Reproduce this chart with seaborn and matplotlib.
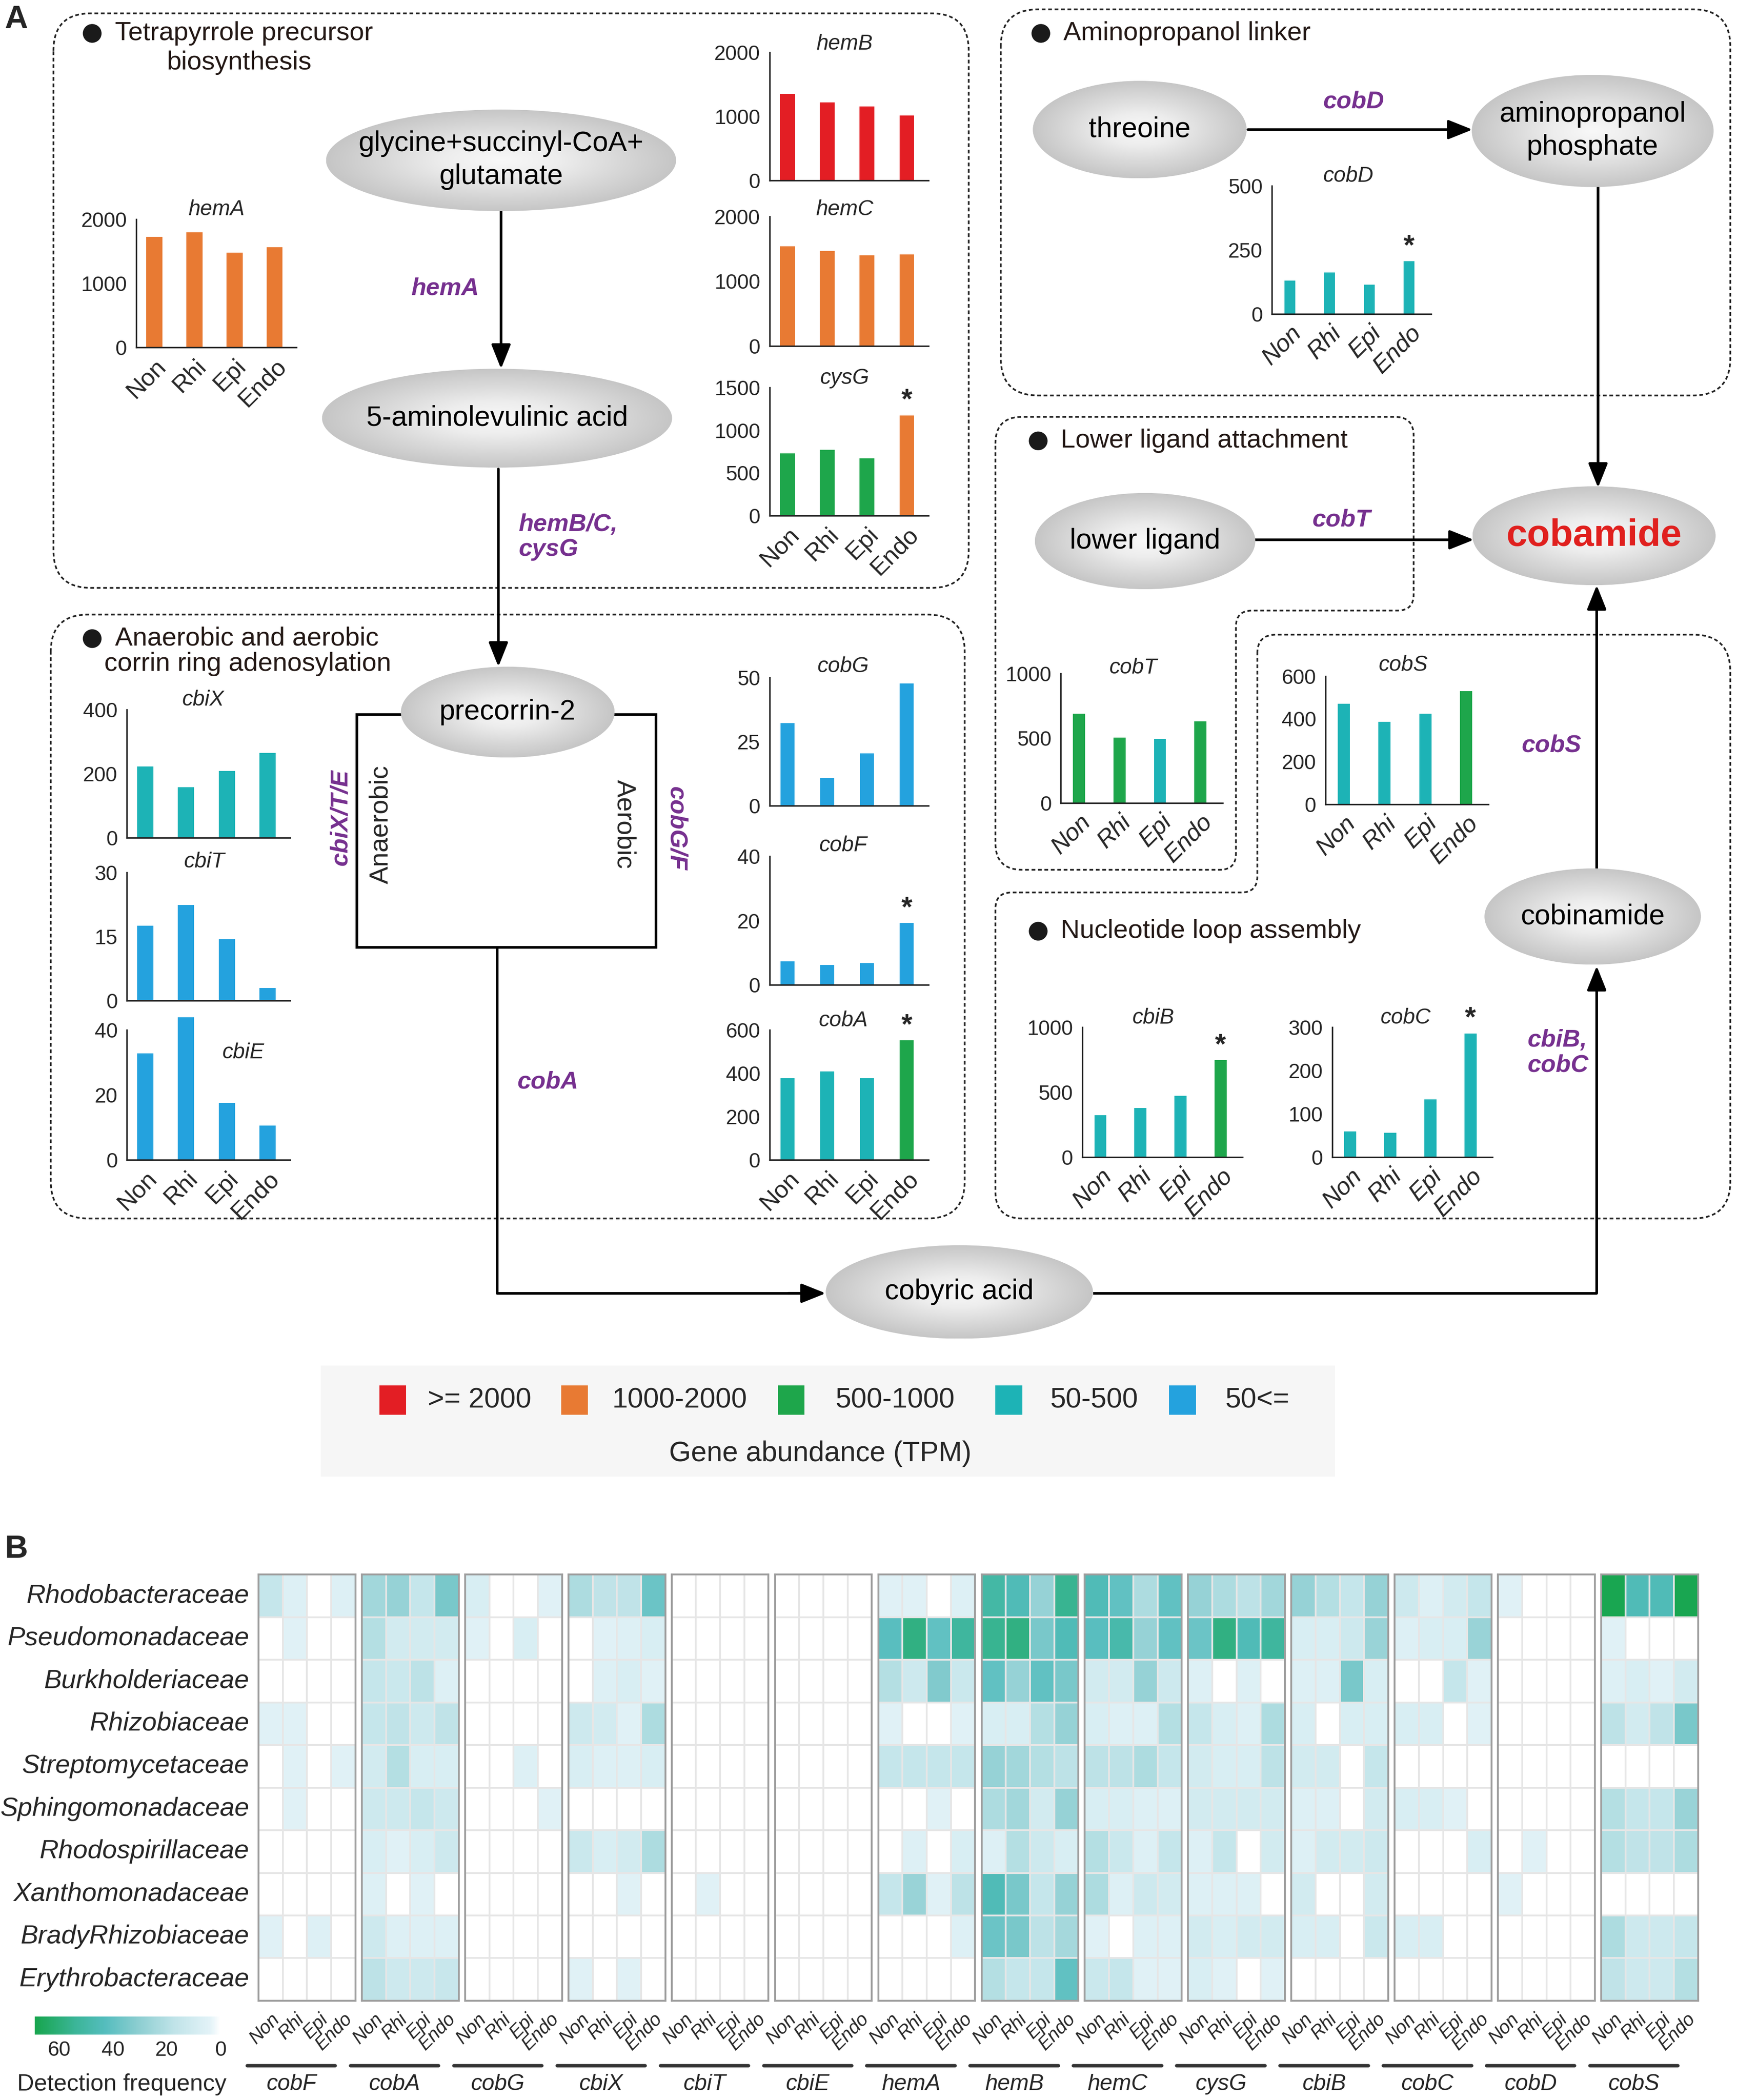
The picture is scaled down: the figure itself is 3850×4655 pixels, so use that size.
import numpy as np
import pandas as pd
import matplotlib
matplotlib.use('Agg')
import matplotlib.pyplot as plt
import seaborn as sns
from matplotlib.path import Path
from matplotlib.patches import PathPatch, Ellipse, Rectangle, Circle
from matplotlib.colors import LinearSegmentedColormap

sns.set_style('white')
plt.rcParams['font.family'] = ['Liberation Sans', 'DejaVu Sans']

# ---------------- data ----------------
samples = ['Non', 'Rhi', 'Epi', 'Endo']

# gene abundance (TPM) per compartment
hemA_tpm = [1723, 1795, 1478, 1563]
hemB_tpm = [1347, 1219, 1149, 1009]
hemC_tpm = [1536, 1467, 1403, 1414]
cysG_tpm = [730, 770, 670, 1174]
cbiX_tpm = [222, 158, 208, 264]
cbiT_tpm = [17.5, 22.4, 14.4, 3.0]
cbiE_tpm = [32.8, 44, 17.5, 10.6]
cobG_tpm = [32.2, 10.7, 20.3, 47.7]
cobF_tpm = [7.3, 6.1, 6.7, 19.2]
cobA_tpm = [377, 409, 377, 553]
cobD_tpm = [130, 162, 115, 206]
cobT_tpm = [689, 506, 494, 630]
cobS_tpm = [470, 385, 423, 530]
cbiB_tpm = [323, 378, 474, 746]
cobC_tpm = [59, 56, 133, 286]

# abundance class of each bar (r: >=2000, o: 1000-2000, g: 500-1000, t: 50-500, b: <50)
hemA_lvl = ['o', 'o', 'o', 'o']
hemB_lvl = ['r', 'r', 'r', 'r']
hemC_lvl = ['o', 'o', 'o', 'o']
cysG_lvl = ['g', 'g', 'g', 'o']
cbiX_lvl = ['t', 't', 't', 't']
cbiT_lvl = ['b', 'b', 'b', 'b']
cbiE_lvl = ['b', 'b', 'b', 'b']
cobG_lvl = ['b', 'b', 'b', 'b']
cobF_lvl = ['b', 'b', 'b', 'b']
cobA_lvl = ['t', 't', 't', 'g']
cobD_lvl = ['t', 't', 't', 't']
cobT_lvl = ['g', 'g', 't', 'g']
cobS_lvl = ['t', 't', 't', 'g']
cbiB_lvl = ['t', 't', 't', 'g']
cobC_lvl = ['t', 't', 't', 't']

# genes with significant Endo increase
starred = ['cysG', 'cobF', 'cobA', 'cobD', 'cbiB', 'cobC']

legend_labels = ['>= 2000', '1000-2000', '500-1000', '50-500', '50<=']

# panel B: detection frequency
families = ['Rhodobacteraceae', 'Pseudomonadaceae', 'Burkholderiaceae', 'Rhizobiaceae',
            'Streptomycetaceae', 'Sphingomonadaceae', 'Rhodospirillaceae', 'Xanthomonadaceae',
            'BradyRhizobiaceae', 'Erythrobacteraceae']
hm_genes = ['cobF', 'cobA', 'cobG', 'cbiX', 'cbiT', 'cbiE', 'hemA', 'hemB',
            'hemC', 'cysG', 'cbiB', 'cobC', 'cobD', 'cobS']

hm_cobF = [[15, 6, 0, 6], [0, 5, 0, 0], [0, 0, 0, 0], [5, 5, 0, 0], [0, 5, 0, 5],
           [0, 5, 0, 0], [0, 0, 0, 0], [0, 0, 0, 0], [5, 0, 6, 0], [0, 0, 0, 0]]
hm_cobA = [[25, 28, 15, 35], [20, 10, 10, 10], [15, 13, 18, 6], [15, 17, 12, 17], [10, 20, 8, 8],
           [12, 12, 15, 12], [8, 5, 8, 12], [6, 0, 5, 0], [12, 6, 6, 6], [18, 12, 12, 14]]
hm_cobG = [[8, 0, 0, 5], [5, 0, 8, 0], [0, 0, 0, 0], [0, 0, 0, 0], [0, 0, 6, 0],
           [0, 0, 0, 5], [0, 0, 0, 0], [0, 0, 0, 0], [0, 0, 0, 0], [0, 0, 0, 0]]
hm_cbiX = [[22, 17, 17, 38], [0, 5, 6, 8], [0, 6, 8, 5], [12, 10, 5, 22], [8, 6, 6, 8],
           [0, 0, 0, 0], [13, 8, 10, 22], [0, 0, 5, 0], [0, 0, 0, 0], [5, 0, 5, 0]]
hm_cbiT = [[0, 0, 0, 0], [0, 0, 0, 0], [0, 0, 0, 0], [0, 0, 0, 0], [0, 0, 0, 0],
           [0, 0, 0, 0], [0, 0, 0, 0], [0, 5, 0, 0], [0, 0, 0, 0], [0, 0, 0, 0]]
hm_cbiE = [[0, 0, 0, 0], [0, 0, 0, 0], [0, 0, 0, 0], [0, 0, 0, 0], [0, 0, 0, 0],
           [0, 0, 0, 0], [0, 0, 0, 0], [0, 0, 0, 0], [0, 0, 0, 0], [0, 0, 0, 0]]
hm_hemA = [[5, 5, 0, 6], [42, 58, 40, 52], [20, 12, 33, 13], [5, 0, 0, 5], [15, 15, 15, 15],
           [0, 0, 5, 0], [0, 6, 0, 8], [15, 27, 5, 18], [0, 0, 0, 6], [0, 0, 0, 0]]
hm_hemB = [[50, 45, 28, 55], [55, 58, 35, 45], [40, 28, 40, 35], [8, 8, 20, 28], [28, 25, 20, 18],
           [22, 25, 10, 28], [6, 20, 12, 8], [45, 35, 15, 28], [38, 35, 18, 24], [20, 15, 15, 40]]
hm_hemC = [[45, 40, 22, 40], [42, 48, 28, 40], [10, 10, 28, 12], [8, 6, 6, 20], [18, 18, 22, 15],
           [8, 8, 6, 6], [20, 13, 6, 15], [22, 6, 12, 10], [5, 0, 6, 6], [13, 15, 5, 5]]
hm_cysG = [[28, 22, 18, 25], [38, 58, 45, 52], [6, 0, 6, 0], [15, 8, 6, 22], [10, 8, 8, 18],
           [10, 10, 10, 10], [6, 15, 0, 10], [6, 6, 6, 0], [10, 8, 10, 10], [8, 5, 0, 5]]
hm_cbiB = [[28, 20, 15, 28], [8, 8, 12, 27], [6, 6, 35, 8], [8, 0, 8, 8], [10, 10, 0, 15],
           [6, 6, 0, 10], [6, 10, 10, 12], [10, 0, 0, 10], [8, 8, 0, 13], [0, 0, 0, 0]]
hm_cobC = [[12, 6, 10, 15], [6, 8, 8, 27], [0, 0, 15, 5], [8, 8, 0, 5], [0, 0, 0, 0],
           [8, 8, 5, 0], [0, 0, 0, 8], [0, 0, 0, 0], [8, 8, 0, 0], [0, 0, 0, 0]]
hm_cobD = [[5, 0, 0, 0], [0, 0, 0, 0], [0, 0, 0, 0], [0, 0, 0, 0], [0, 0, 0, 0],
           [0, 0, 0, 0], [0, 5, 0, 0], [5, 0, 0, 0], [0, 0, 0, 0], [0, 0, 0, 0]]
hm_cobS = [[68, 45, 45, 68], [5, 0, 0, 0], [6, 8, 5, 10], [18, 10, 17, 35], [0, 0, 0, 0],
           [20, 15, 15, 27], [20, 17, 17, 22], [0, 0, 0, 0], [22, 12, 12, 15], [17, 12, 12, 20]]

# ---------------- styles ----------------
W, H = 1300, 1571.8          # layout units (reference at 1300 px wide)
PURPLE = '#76308F'
level_colors = {'r': '#E31E24', 'o': '#E87A33', 'g': '#1EA64B', 't': '#1DB3B6', 'b': '#24A2DE'}
det_cmap = LinearSegmentedColormap.from_list('det', [
    (0.0, '#FFFFFF'), (0.05, '#E4F3F8'), (0.25, '#BFE3E8'), (0.45, '#8ACDD0'),
    (0.62, '#55BDBE'), (0.78, '#3BB598'), (1.0, '#17A54D')])
node_cmap = LinearSegmentedColormap.from_list('node', ['#F8F8F8', '#EDEDED', '#D9D9D9', '#C6C6C6'])

fig = plt.figure(figsize=(3850 / 300, 4655 / 300), dpi=300)
ov = fig.add_axes([0, 0, 1, 1])
ov.set_zorder(0)
ov.axis('off')


def fax(x0, x1, y0, y1):
    return fig.add_axes([x0 / W, 1 - y1 / H, (x1 - x0) / W, (y1 - y0) / H])


def rounded_path(pts, radii):
    verts, codes = [], []
    n = len(pts)
    for i in range(n):
        p0, p1, p2 = np.array(pts[i - 1], float), np.array(pts[i], float), np.array(pts[(i + 1) % n], float)
        d1 = (p0 - p1) / np.linalg.norm(p0 - p1)
        d2 = (p2 - p1) / np.linalg.norm(p2 - p1)
        r = radii[i]
        verts += [p1 + d1 * r, p1, p1 + d2 * r]
        codes += [Path.MOVETO if i == 0 else Path.LINETO, Path.CURVE3, Path.CURVE3]
    verts.append(verts[0])
    codes.append(Path.LINETO)
    return Path(verts, codes)


def dotted_box(pts, radii):
    ov.add_patch(PathPatch(rounded_path(pts, radii), fill=False, edgecolor='#222222',
                           lw=0.9, ls=(0, (2.2, 1.6))))


def node(cx, cy, w, h, text, fs=15, color='black', weight='normal'):
    e = Ellipse((cx, cy), w, h, facecolor='none', edgecolor='none')
    ov.add_patch(e)
    yy, xx = np.mgrid[-1:1:200j, -1:1:200j]
    r = np.sqrt(xx ** 2 + yy ** 2)
    im = ov.imshow(r, extent=[cx - w / 2, cx + w / 2, cy + h / 2, cy - h / 2], cmap=node_cmap,
                   vmin=0, vmax=1, aspect='auto', zorder=3, interpolation='bilinear')
    im.set_clip_path(e)
    ov.text(cx, cy, text, ha='center', va='center', fontsize=fs, color=color,
            fontweight=weight, linespacing=1.3, zorder=4)


def arrow(p1, p2):
    ov.annotate('', xy=p2, xytext=p1, zorder=2,
                arrowprops=dict(arrowstyle='-|>,head_length=0.55,head_width=0.22', color='black',
                                lw=1.4, shrinkA=0, shrinkB=0, mutation_scale=20))


def line(xs, ys):
    ov.plot(xs, ys, color='black', lw=1.4, solid_capstyle='butt', zorder=2)


def purple(x, y, text, rot=0, ha='center'):
    ov.text(x, y, text, color=PURPLE, fontsize=13, fontweight='bold', style='italic',
            ha=ha, va='center', rotation=rot, linespacing=1.15)


def box_title(x, y, text, x_text=None):
    ov.add_patch(Circle((x, y), 6.3, color='#1a1a1a'))
    ov.text(x + 17 if x_text is None else x_text, y, text, fontsize=14, va='center', ha='left',
            color='#231815')


# ---------------- panel A : boxes ----------------
dotted_box([(40, 10), (725, 10), (725, 440), (40, 440)], [28] * 4)
dotted_box([(38, 460), (722, 460), (722, 912), (38, 912)], [28] * 4)
dotted_box([(749, 7), (1295, 7), (1295, 296), (749, 296)], [28] * 4)
dotted_box([(745, 312), (1058, 312), (1058, 457), (925, 457), (925, 651), (745, 651)],
           [20, 14, 12, 12, 12, 20])
dotted_box([(941, 475), (1295, 475), (1295, 912), (745, 912), (745, 668), (941, 668)],
           [14, 28, 28, 20, 12, 12])

box_title(69, 25, 'Tetrapyrrole precursor')
ov.text(179, 47, 'biosynthesis', fontsize=14, ha='center', va='center', color='#231815')
box_title(69, 478, 'Anaerobic and aerobic')
ov.text(78, 497, 'corrin ring adenosylation', fontsize=14, ha='left', va='center', color='#231815')
box_title(779, 25, 'Aminopropanol linker')
box_title(777, 330, 'Lower ligand attachment')
box_title(777, 697, 'Nucleotide loop assembly')

ov.text(12, 15, 'A', fontsize=17, fontweight='bold', ha='center', va='center')
ov.text(12, 1160, 'B', fontsize=17, fontweight='bold', ha='center', va='center')

# ---------------- pathway ----------------
ov.add_patch(Rectangle((267, 535), 224, 174, fill=False, edgecolor='black', lw=1.4, zorder=2))
ov.text(285, 617, 'Anaerobic', rotation=90, fontsize=14, ha='center', va='center')
ov.text(467, 617, 'Aerobic', rotation=-90, fontsize=14, ha='center', va='center')

arrow((375, 156), (375, 276))
arrow((373, 351), (373, 499))
line([372, 372, 600], [709, 968, 968])
arrow((590, 968), (618, 968))
line([818, 1195], [968, 968])
arrow((1195, 968), (1195, 723))
arrow((1195, 650), (1195, 438))
arrow((1196, 139), (1196, 365))
arrow((934, 97), (1102, 97))
arrow((938, 404), (1103, 404))

node(375, 120, 262, 76, 'glycine+succinyl-CoA+\nglutamate')
node(372, 313, 262, 74, '5-aminolevulinic acid')
node(380, 533, 160, 68, 'precorrin-2')
node(718, 967, 200, 70, 'cobyric acid')
node(853, 97, 160, 73, 'threoine')
node(1192, 98, 181, 84, 'aminopropanol\nphosphate')
node(857, 405, 165, 72, 'lower ligand')
node(1193, 401, 182, 74, 'cobamide', fs=20, color='#E0201E', weight='bold')
node(1192, 686, 162, 72, 'cobinamide')

purple(333, 216, 'hemA')
purple(388, 402, 'hemB/C,\ncysG', ha='left')
purple(255, 612, 'cbiX/T/E', rot=90)
purple(506, 620, 'cobG/F', rot=-90)
purple(410, 810, 'cobA')
purple(1013, 76, 'cobD')
purple(1004, 389, 'cobT')
purple(1161, 558, 'cobS')
purple(1143, 788, 'cbiB,\ncobC', ha='left')

# ---------------- bar charts ----------------
# name: (values, levels, x0, x1, y_top, y_bottom, ticks, title xy, x labels, bar width, italic labels)
bar_layout = {
    'hemA': (hemA_tpm, hemA_lvl, 102, 222, 164, 260, [0, 1000, 2000], (162, 157), True, 0.4, False),
    'hemB': (hemB_tpm, hemB_lvl, 576, 695, 39, 135, [0, 1000, 2000], (632, 33), False, 0.37, False),
    'hemC': (hemC_tpm, hemC_lvl, 576, 695, 162, 259, [0, 1000, 2000], (632, 157), False, 0.37, False),
    'cysG': (cysG_tpm, cysG_lvl, 576, 695, 290, 386, [0, 500, 1000, 1500], (632, 283), True, 0.37, False),
    'cbiX': (cbiX_tpm, cbiX_lvl, 95, 217, 531, 627, [0, 200, 400], (152, 524), False, 0.4, False),
    'cbiT': (cbiT_tpm, cbiT_lvl, 95, 217, 653, 749, [0, 15, 30], (153, 645), False, 0.4, False),
    'cbiE': (cbiE_tpm, cbiE_lvl, 95, 217, 771, 868, [0, 20, 40], (182, 788), True, 0.4, False),
    'cobG': (cobG_tpm, cobG_lvl, 576, 695, 507, 603, [0, 25, 50], (631, 499), False, 0.35, False),
    'cobF': (cobF_tpm, cobF_lvl, 576, 695, 641, 737, [0, 20, 40], (631, 633), False, 0.35, False),
    'cobA': (cobA_tpm, cobA_lvl, 576, 695, 771, 868, [0, 200, 400, 600], (631, 764), True, 0.35, False),
    'cobD': (cobD_tpm, cobD_lvl, 952, 1071, 139, 235, [0, 250, 500], (1009, 132), True, 0.27, True),
    'cobT': (cobT_tpm, cobT_lvl, 794, 915, 504, 601, [0, 500, 1000], (848, 500), True, 0.3, True),
    'cobS': (cobS_tpm, cobS_lvl, 992, 1114, 506, 602, [0, 200, 400, 600], (1050, 498), True, 0.3, True),
    'cbiB': (cbiB_tpm, cbiB_lvl, 810, 930, 769, 866, [0, 500, 1000], (863, 762), True, 0.3, True),
    'cobC': (cobC_tpm, cobC_lvl, 997, 1117, 769, 866, [0, 100, 200, 300], (1052, 762), True, 0.3, True),
}

for name, (vals, lvls, x0, x1, yt, yb, ticks, (tx, ty), xl, bw, ital) in bar_layout.items():
    ax = fax(x0, x1, yt, yb)
    ax.set_zorder(2)
    df = pd.DataFrame({'sample': samples, 'tpm': vals})
    sns.barplot(data=df, x='sample', y='tpm', hue='sample', hue_order=samples,
                palette=[level_colors[l] for l in lvls], legend=False, width=bw,
                saturation=1, errorbar=None, linewidth=0, ax=ax)
    for p in ax.patches:
        p.set_clip_on(False)
    ax.set_facecolor('none')
    ax.set_ylim(0, ticks[-1])
    ax.set_yticks(ticks)
    ax.set_xlim(-0.45, 3.55)
    ax.set_xlabel('')
    ax.set_ylabel('')
    sns.despine(ax=ax)
    for sp in ['left', 'bottom']:
        ax.spines[sp].set_linewidth(0.8)
        ax.spines[sp].set_color('#222222')
    ax.tick_params(axis='y', length=3.5, width=0.7, labelsize=11, pad=1.5)
    if xl:
        ax.set_xticks(range(4))
        ax.set_xticklabels(samples, rotation=45, ha='right', rotation_mode='anchor',
                           fontsize=13, style='italic' if ital else 'normal')
        ax.tick_params(axis='x', length=0, pad=4)
    else:
        ax.set_xticks([])
    if name in starred:
        ax.text(3, vals[3] + ticks[-1] * 0.01, '*', ha='center', va='bottom',
                fontsize=15, fontweight='bold')
    ov.text(tx, ty, name, style='italic', fontsize=11.5, ha='center', va='center')

# ---------------- legend ----------------
ov.add_patch(Rectangle((240, 1022), 759, 83, facecolor='#F6F6F6', edgecolor='none', zorder=1))
for lv, lab, sx, tx in zip(['r', 'o', 'g', 't', 'b'], legend_labels,
                           [294, 430, 592, 755, 885], [320, 458, 625, 786, 917]):
    ov.add_patch(Rectangle((sx - 10, 1037), 20, 22, facecolor=level_colors[lv], edgecolor='none', zorder=2))
    ov.text(tx, 1048, lab, fontsize=15, ha='left', va='center', zorder=2)
ov.text(614, 1088, 'Gene abundance (TPM)', fontsize=15, ha='center', va='center', zorder=2)

# ---------------- panel B : heatmap ----------------
hm_data = {'cobF': hm_cobF, 'cobA': hm_cobA, 'cobG': hm_cobG, 'cbiX': hm_cbiX, 'cbiT': hm_cbiT,
           'cbiE': hm_cbiE, 'hemA': hm_hemA, 'hemB': hm_hemB, 'hemC': hm_hemC, 'cysG': hm_cysG,
           'cbiB': hm_cbiB, 'cobC': hm_cobC, 'cobD': hm_cobD, 'cobS': hm_cobS}

mappable = None
for k, g in enumerate(hm_genes):
    x0 = 193.5 + 77.3 * k
    ax = fax(x0, x0 + 72.5, 1178.5, 1497.5)
    ax.set_zorder(2)
    df = pd.DataFrame(hm_data[g], index=families, columns=samples)
    sns.heatmap(df, ax=ax, cmap=det_cmap, vmin=0, vmax=69, cbar=False, linewidths=0.5,
                linecolor='#E6E6E6', xticklabels=True, yticklabels=(k == 0))
    if mappable is None:
        mappable = ax.collections[0]
    ax.set_xticklabels(samples, rotation=45, ha='right', rotation_mode='anchor',
                       fontsize=10, style='italic')
    ax.tick_params(axis='x', length=0, pad=5)
    if k == 0:
        ax.set_yticklabels(families, rotation=0, fontsize=14, style='italic')
        ax.tick_params(axis='y', length=0, pad=5)
    ax.set_xlabel('')
    ax.set_ylabel('')
    for sp in ax.spines.values():
        sp.set_visible(True)
        sp.set_color('#9E9E9E')
        sp.set_linewidth(1.0)
    ov.plot([x0 - 8.5, x0 + 57.5], [1546, 1546], color='#333333', lw=1.8)
    ov.text(x0 + 24.5, 1560, g, style='italic', fontsize=12, ha='center', va='center')

cax = fax(26, 165, 1509.5, 1523)
cb = fig.colorbar(mappable, cax=cax, orientation='horizontal')
cax.invert_xaxis()
cb.set_ticks([0, 20, 40, 60])
cb.outline.set_visible(False)
cax.tick_params(length=0, labelsize=11, pad=3)
ov.text(91, 1560, 'Detection frequency', fontsize=12.5, ha='center', va='center')

ov.set_xlim(0, W)
ov.set_ylim(H, 0)
fig.savefig('out.png', dpi=300, facecolor='white')
